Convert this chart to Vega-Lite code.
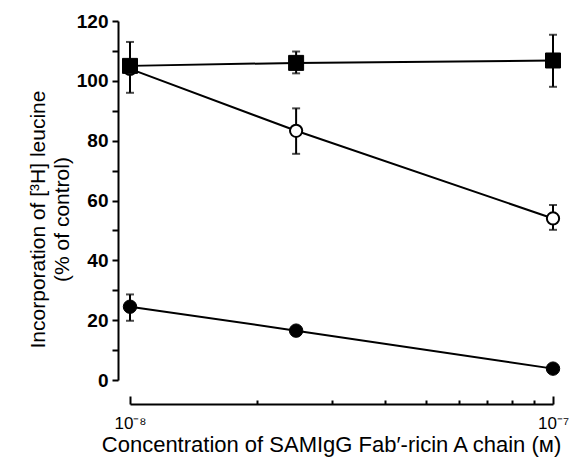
{
  "$schema": "https://vega.github.io/schema/vega-lite/v6.json",
  "width": 423,
  "height": 359,
  "autosize": {"type": "none"},
  "padding": {"left": 130, "top": 21, "right": 20, "bottom": 79},
  "background": "white",
  "config": {
    "view": {"stroke": null},
    "font": "Liberation Sans",
    "axis": {"grid": false, "domainColor": "black", "tickColor": "black", "labelColor": "black", "titleColor": "black", "labelFont": "Liberation Sans", "titleFont": "Liberation Sans", "titleFontWeight": "normal"}
  },
  "data": {
    "values": [
      {"series": "sq", "conc": 1e-8, "value": 105, "lo": 96, "hi": 113},
      {"series": "sq", "conc": 2.47e-8, "value": 106, "lo": 102.5, "hi": 109.8},
      {"series": "sq", "conc": 1e-7, "value": 106.8, "lo": 98, "hi": 115.4},
      {"series": "open", "conc": 1e-8, "value": 104, "lo": null, "hi": null},
      {"series": "open", "conc": 2.47e-8, "value": 83.3, "lo": 75.6, "hi": 90.8},
      {"series": "open", "conc": 1e-7, "value": 54, "lo": 50.2, "hi": 58.5},
      {"series": "filled", "conc": 1e-8, "value": 24.5, "lo": 19.8, "hi": 28.6},
      {"series": "filled", "conc": 2.47e-8, "value": 16.5, "lo": null, "hi": null},
      {"series": "filled", "conc": 1e-7, "value": 3.8, "lo": null, "hi": null}
    ]
  },
  "encoding": {
    "x": {"field": "conc", "type": "quantitative", "scale": {"type": "log", "domain": [1e-8, 1e-7], "nice": false}, "axis": {
      "offset": 24,
      "values": [1e-8, 2e-8, 3e-8, 4e-8, 5e-8, 6e-8, 7e-8, 8e-8, 9e-8, 1e-7],
      "labelExpr": "datum.value < 1.5e-8 ? '10⁻⁸' : (datum.value > 9.5e-8 ? '10⁻⁷' : '')",
      "labelFlush": false, "labelFontSize": 17, "labelPadding": 19, "labelBaseline": "top",
      "tickSize": {"condition": {"test": "datum.value < 1.5e-8 || datum.value > 9.5e-8", "value": -8}, "value": -4},
      "tickWidth": 2, "domainWidth": 2,
      "title": "Concentration of SAMIgG Fab′-ricin A chain (ᴍ)",
      "titleFontSize": 22, "titleBaseline": "top", "titleY": 30, "titleX": 201
    }},
    "y": {"field": "value", "type": "quantitative", "scale": {"domain": [0, 120], "nice": false}, "axis": {
      "offset": 12,
      "values": [0, 10, 20, 30, 40, 50, 60, 70, 80, 90, 100, 110, 120],
      "labelExpr": "datum.value % 20 == 0 ? datum.label : ''",
      "labelFontSize": 19, "labelFontWeight": "bold", "labelPadding": 4,
      "tickSize": 6, "tickWidth": 2, "domainWidth": 2,
      "title": ["Incorporation of [³H] leucine", "(% of control)"],
      "titleFontSize": 21, "titlePadding": 4, "titleLineHeight": 24, "titleY": 198
    }}
  },
  "layer": [
    {
      "mark": {"type": "line", "color": "black", "strokeWidth": 2},
      "encoding": {
        "detail": {"field": "series"},
        "order": {"field": "conc"}
      }
    },
    {
      "mark": {"type": "errorbar", "ticks": {"size": 8, "thickness": 2, "color": "black"}, "rule": {"strokeWidth": 2, "color": "black"}},
      "transform": [{"filter": "datum.lo != null"}],
      "encoding": {
        "y": {"field": "lo", "type": "quantitative", "title": ["Incorporation of [³H] leucine", "(% of control)"]},
        "y2": {"field": "hi"}
      }
    },
    {
      "mark": {"type": "point", "shape": "circle", "size": 180, "filled": true, "fill": "black", "stroke": "black", "strokeWidth": 1, "opacity": 1},
      "transform": [{"filter": "datum.series == 'filled'"}],
      "encoding": {}
    },
    {
      "mark": {"type": "point", "shape": "circle", "size": 150, "filled": false, "fill": "white", "fillOpacity": 1, "stroke": "black", "strokeWidth": 2, "opacity": 1},
      "transform": [{"filter": "datum.series == 'open'"}],
      "encoding": {}
    },
    {
      "mark": {"type": "point", "shape": "square", "size": 225, "filled": true, "fill": "black", "stroke": "black", "strokeWidth": 1, "opacity": 1},
      "transform": [{"filter": "datum.series == 'sq'"}],
      "encoding": {}
    }
  ]
}
